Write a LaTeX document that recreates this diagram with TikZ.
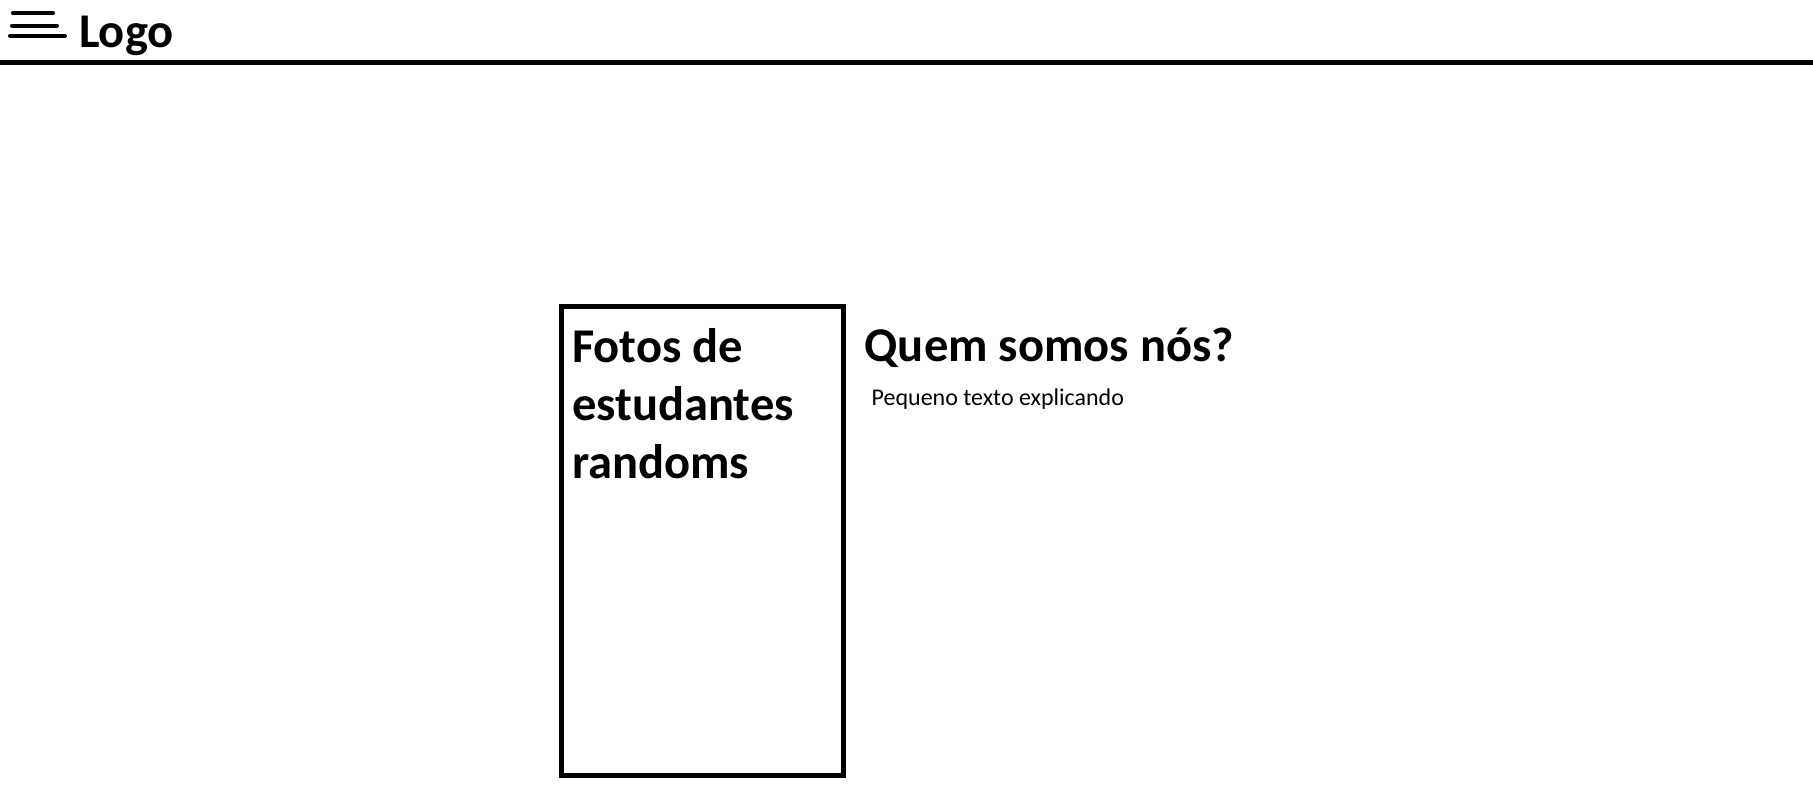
\documentclass[tikz,border=0pt]{standalone}
\usepackage{fontspec}
\setmainfont{Carlito}
\begin{document}
\begin{tikzpicture}[x=1pt,y=-1pt,
  bar/.style={line width=4pt,line cap=round},
  bigtext/.style={inner sep=0pt,anchor=base west,font=\bfseries\fontsize{48.5}{58}\selectfont,align=left},
  smalltext/.style={inner sep=0pt,anchor=base west,font=\fontsize{24}{29}\selectfont},
  frame/.style={draw,line width=5pt,minimum width=282pt,minimum height=469pt,inner sep=0pt}]
\useasboundingbox (0,0) rectangle (1813,805);
% menu icon
\coordinate (m1a) at (13,13.3); \coordinate (m1b) at (53,13.3);
\coordinate (m2a) at (12,25.7); \coordinate (m2b) at (57,25.7);
\coordinate (m3a) at (10,35.7); \coordinate (m3b) at (65,35.7);
\draw[bar] (m1a) -- (m1b);
\draw[bar] (m2a) -- (m2b);
\draw[bar] (m3a) -- (m3b);
\node[bigtext] (logo) at (79,48) {Logo};
% header line
\coordinate (hl) at (0,62.5); \coordinate (hr) at (1813,62.5);
\draw[line width=5pt] (hl) -- (hr);
% photo box
\node[frame] (box) at (702.5,541.4) {};
% base anchor of a multi-line node is the last line's baseline
\node[bigtext] (fotos) at (572,478) {Fotos de\\estudantes\\randoms};
\node[bigtext] (quem) at (864.5,361) {Quem somos nós?};
\node[smalltext] (peq) at (871.5,405.5) {Pequeno texto explicando};
\end{tikzpicture}
\end{document}
